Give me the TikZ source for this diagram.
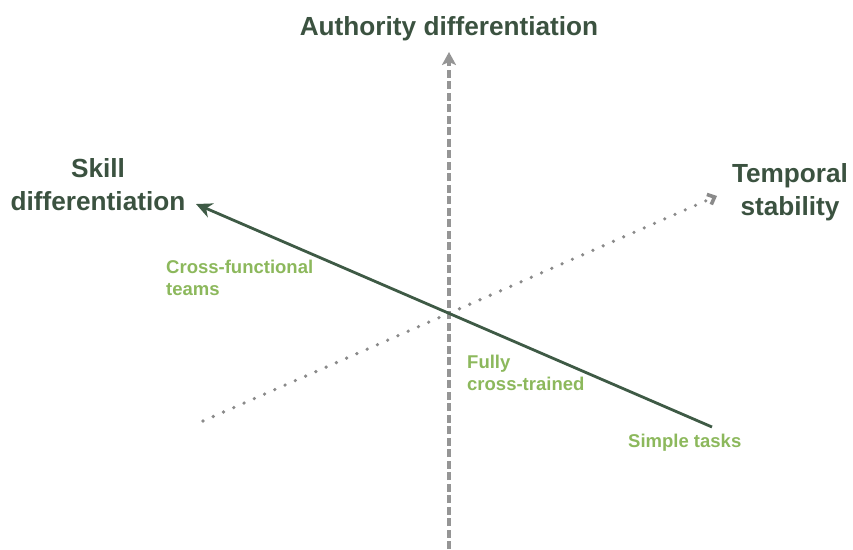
\documentclass[tikz,border=0pt]{standalone}
\usepackage{fontspec}
\setmainfont{Liberation Sans}
\usetikzlibrary{arrows.meta}
\definecolor{darkgreen}{HTML}{3B5240}
\definecolor{axisgreen}{HTML}{3E5A45}
\definecolor{lightgreen}{HTML}{8CB85C}
\definecolor{axisgray}{HTML}{959595}
\definecolor{dotgray}{HTML}{8A8A8A}
\tikzset{
  title/.style={text=darkgreen, font=\bfseries\fontsize{26.2}{33}\selectfont, inner sep=0pt},
  label/.style={text=lightgreen, font=\bfseries\fontsize{18.5}{22}\selectfont, inner sep=0pt, align=left, anchor=north west},
  authaxis/.style={draw=axisgray, line width=4pt, dash pattern=on 8pt off 3.5pt, -{Stealth[length=13pt,width=14pt,inset=3pt]}},
  skillaxis/.style={draw=axisgreen, line width=2.8pt, -{Stealth[length=16pt,width=15pt,inset=5pt]}},
  tempaxis/.style={draw=dotgray, line width=3.6pt, line cap=round, dash pattern=on 0pt off 11.2pt, -{Straight Barb[length=6pt,width=11pt,line cap=butt]}}
}
\begin{document}
\begin{tikzpicture}[x=1pt,y=-1pt]
\useasboundingbox (0,0) rectangle (853,549);
\coordinate (vbot) at (449,549);
\coordinate (vtop) at (449,52);
\coordinate (sstart) at (712,427);
\coordinate (send) at (196,204);
\coordinate (tstart) at (203,421);
\coordinate (tend) at (717,196);
\draw[authaxis] (vbot) -- (vtop);
\draw[tempaxis] (tstart) -- (tend);
\draw[skillaxis] (sstart) -- (send);
\node[title, anchor=base] (auth) at (449,35) {Authority differentiation};
\node[title, anchor=north, align=center] (skill) at (98,158) {Skill\\differentiation};
\node[title, anchor=north, align=center] (temp) at (790,163) {Temporal\\stability};
\node[label] (cross) at (166,259.5) {Cross-functional\\teams};
\node[label] (fully) at (467,354.5) {Fully\\cross-trained};
\node[label, anchor=base west] (simple) at (628,447) {Simple tasks};
\end{tikzpicture}
\end{document}
